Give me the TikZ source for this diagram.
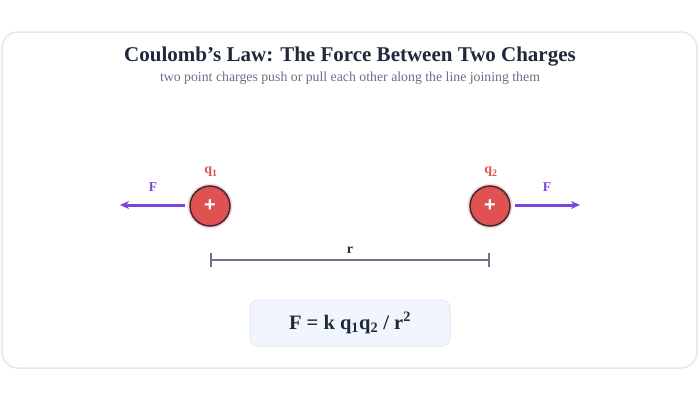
\documentclass[tikz,border=0pt]{standalone}
\usepackage{fontspec}
\setmainfont{Liberation Serif}
\newfontfamily\plusfont{Liberation Sans}
\usetikzlibrary{arrows.meta}
\definecolor{cardline}{HTML}{E3E7F3}
\definecolor{titleink}{HTML}{1E293B}
\definecolor{subink}{HTML}{667085}
\definecolor{chargered}{HTML}{E05252}
\definecolor{chargeedge}{HTML}{3B2A33}
\definecolor{chargeglow}{HTML}{F6DADA}
\definecolor{qink}{HTML}{D9534F}
\definecolor{forceink}{HTML}{7A45DC}
\definecolor{distink}{HTML}{6B7585}
\definecolor{boxfill}{HTML}{F1F5FD}
\definecolor{boxline}{HTML}{E1E7F4}
\tikzset{
  charge/.style={circle, minimum size=40pt, inner sep=0pt, fill=chargered,
    draw=chargeedge, line width=1.5pt, text=white, font=\plusfont\fontsize{20}{20}\selectfont\bfseries},
  qlabel/.style={text=qink, font=\fontsize{14}{14}\selectfont\bfseries},
  flabel/.style={text=forceink, font=\fontsize{13.5}{13.5}\selectfont\bfseries},
  force/.style={forceink, line width=3pt, -{Stealth[length=9pt,width=8pt]}},
  dist/.style={distink, line width=2pt, {Bar[width=14pt]}-{Bar[width=14pt]}},
  formbox/.style={fill=boxfill, draw=boxline, line width=1pt, rounded corners=8pt,
    minimum width=200pt, minimum height=46pt, text=titleink,
    font=\fontsize{20.5}{20.5}\selectfont\bfseries}
}

\begin{document}
\begin{tikzpicture}[x=1pt,y=-1pt]
  \useasboundingbox (0,0) rectangle (700,400);
  %%%%% card %%%%%
  \draw[cardline, line width=1.5pt, rounded corners=16pt] (2,32) rectangle (697,368);

  \node[text=titleink, font=\fontsize{21}{21}\selectfont\bfseries] (title) at (350,57)
    {Coulomb’s Law: The Force Between Two Charges};
  \node[text=subink, font=\fontsize{13.8}{13.8}\selectfont] (subtitle) at (350,78)
    {two point charges push or pull each other along the line joining them};

  %%%%% charges %%%%%
  \fill[chargeglow] (210,206) circle (22.5);
  \fill[chargeglow] (490,206) circle (22.5);
  \node[charge] (qone) at (210,206) {+};
  \node[charge] (qtwo) at (490,206) {+};
  \node[qlabel] (qonelbl) at (211,172) {q\textsubscript{1}};
  \node[qlabel] (qtwolbl) at (491,172) {q\textsubscript{2}};

  %%%%% forces %%%%%
  \coordinate (fone) at (120,205);
  \coordinate (ftwo) at (580,205);
  \draw[force] ([xshift=-4pt]qone.west |- fone) -- (fone);
  \draw[force] ([xshift=4pt]qtwo.east |- ftwo) -- (ftwo);
  \node[flabel] (fonelbl) at (153,187) {F};
  \node[flabel] (ftwolbl) at (547,187) {F};

  %%%%% distance %%%%%
  \coordinate (rone) at (210,260);
  \coordinate (rtwo) at (490,260);
  \draw[dist] (rone) -- (rtwo);
  \node[text=titleink, font=\fontsize{14}{14}\selectfont\bfseries] (rlbl) at (350,250) {r};

  %%%%% law %%%%%
  \node[formbox] (law) at (350,323)
    {F = k q\textsubscript{1}q\textsubscript{2} / r\textsuperscript{2}};
\end{tikzpicture}
\end{document}
